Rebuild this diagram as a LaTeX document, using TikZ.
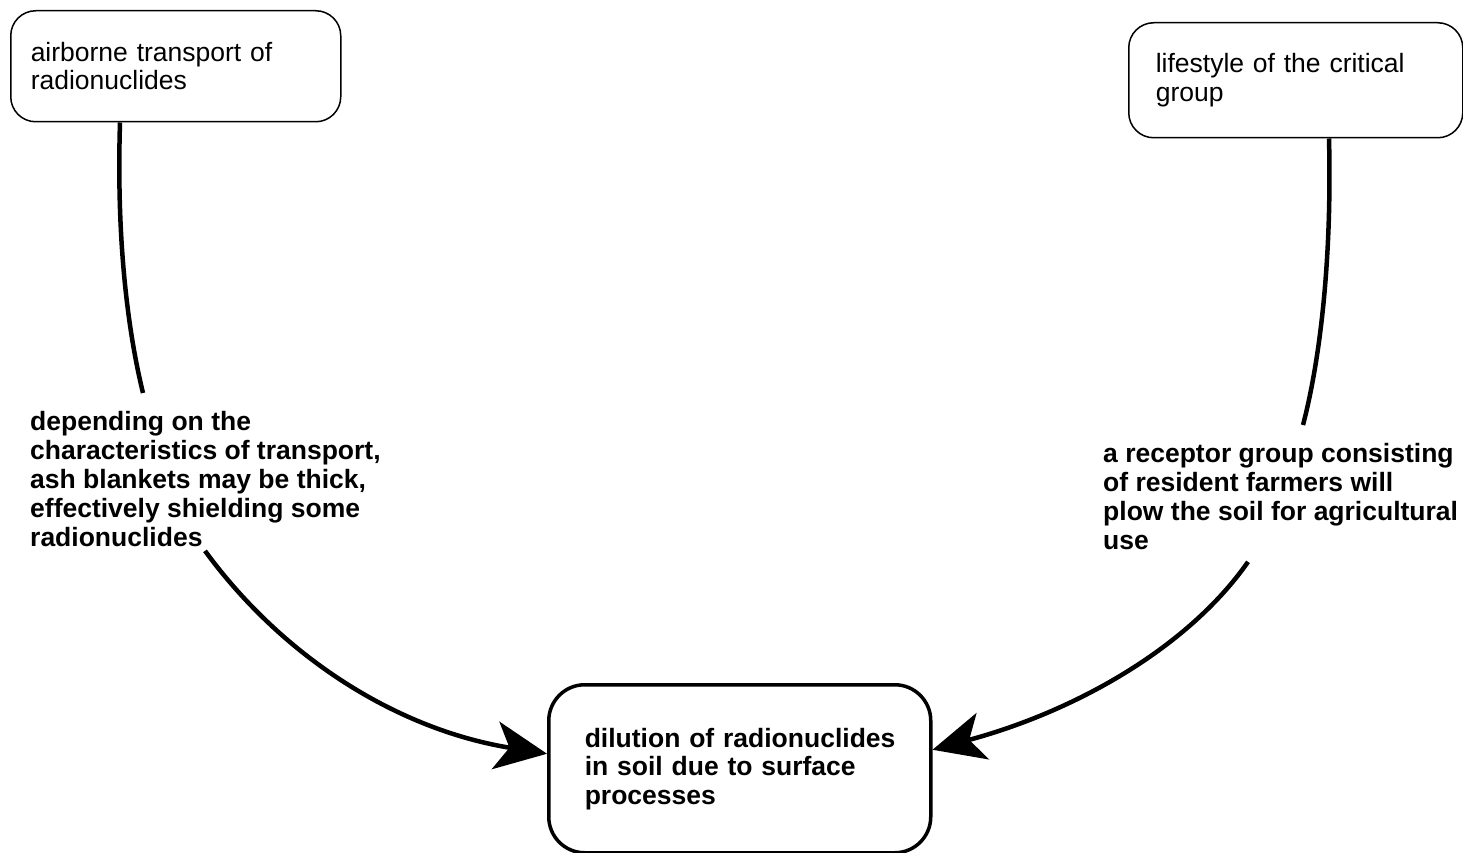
\documentclass[tikz,border=0pt]{standalone}
\usepackage{fontspec}
\setmainfont{Liberation Sans}
\usetikzlibrary{arrows.meta}
\begin{document}
\begin{tikzpicture}[x=1pt,y=-1pt,
  topbox/.style={draw, line width=1.5pt, rounded corners=25pt, anchor=north west,
    align=left, inner ysep=0pt, font=\fontsize{26.5}{28.5}\selectfont},
  botbox/.style={draw, line width=3.5pt, rounded corners=36pt, anchor=north west,
    align=left, inner ysep=0pt, font=\fontsize{26.5}{28.5}\selectfont\bfseries},
  lbl/.style={anchor=north west, align=left, inner sep=0pt,
    font=\fontsize{26.5}{29}\selectfont\bfseries},
  conn/.style={line width=4.5pt},
  arr/.style={conn, -{Stealth[length=52pt,width=48pt,inset=14pt]}}
]
\useasboundingbox (0,0) rectangle (1463,853);

\node[topbox, text width=290pt, inner xsep=20pt, minimum height=111pt] (air) at (10,10)
  {airborne transport of\\radionuclides};
\node[topbox, text width=280pt, inner xsep=27pt, minimum height=115pt] (life) at (1128,22)
  {lifestyle of the critical\\group};
\node[botbox, text width=310pt, inner xsep=36pt, minimum height=168pt] (dil) at (547,683)
  {\mbox{dilution of radionuclides}\\\mbox{in soil due to surface}\\\mbox{processes}};

\node[lbl] (l1) at (30,411)
  {depending on the\\characteristics of transport,\\ash blankets may be thick,\\effectively shielding some\\radionuclides};
\node[lbl] (l2) at (1103,443)
  {a receptor group consisting\\of resident farmers will\\plow the soil for agricultural\\use};

\coordinate (l1top) at ([xshift=113pt,yshift=18pt]l1.north west);
\coordinate (l1bot) at ([xshift=175pt,yshift=-4pt]l1.south west);
\coordinate (l2top) at ([xshift=200pt,yshift=18pt]l2.north west);
\coordinate (l2bot) at ([xshift=145pt,yshift=-12pt]l2.south west);

\draw[conn] ([xshift=110pt]air.south west) .. controls (116,250) and (130,340) .. (l1top);
\draw[arr] (l1bot) .. controls (285,660) and (400,730) .. ([yshift=15pt]dil.west);
\draw[conn] ([xshift=201pt]life.south west) .. controls (1332,260) and (1320,360) .. (l2top);
\draw[arr] (l2bot) .. controls (1190,645) and (1080,710) .. ([yshift=19pt]dil.east);
\end{tikzpicture}
\end{document}
